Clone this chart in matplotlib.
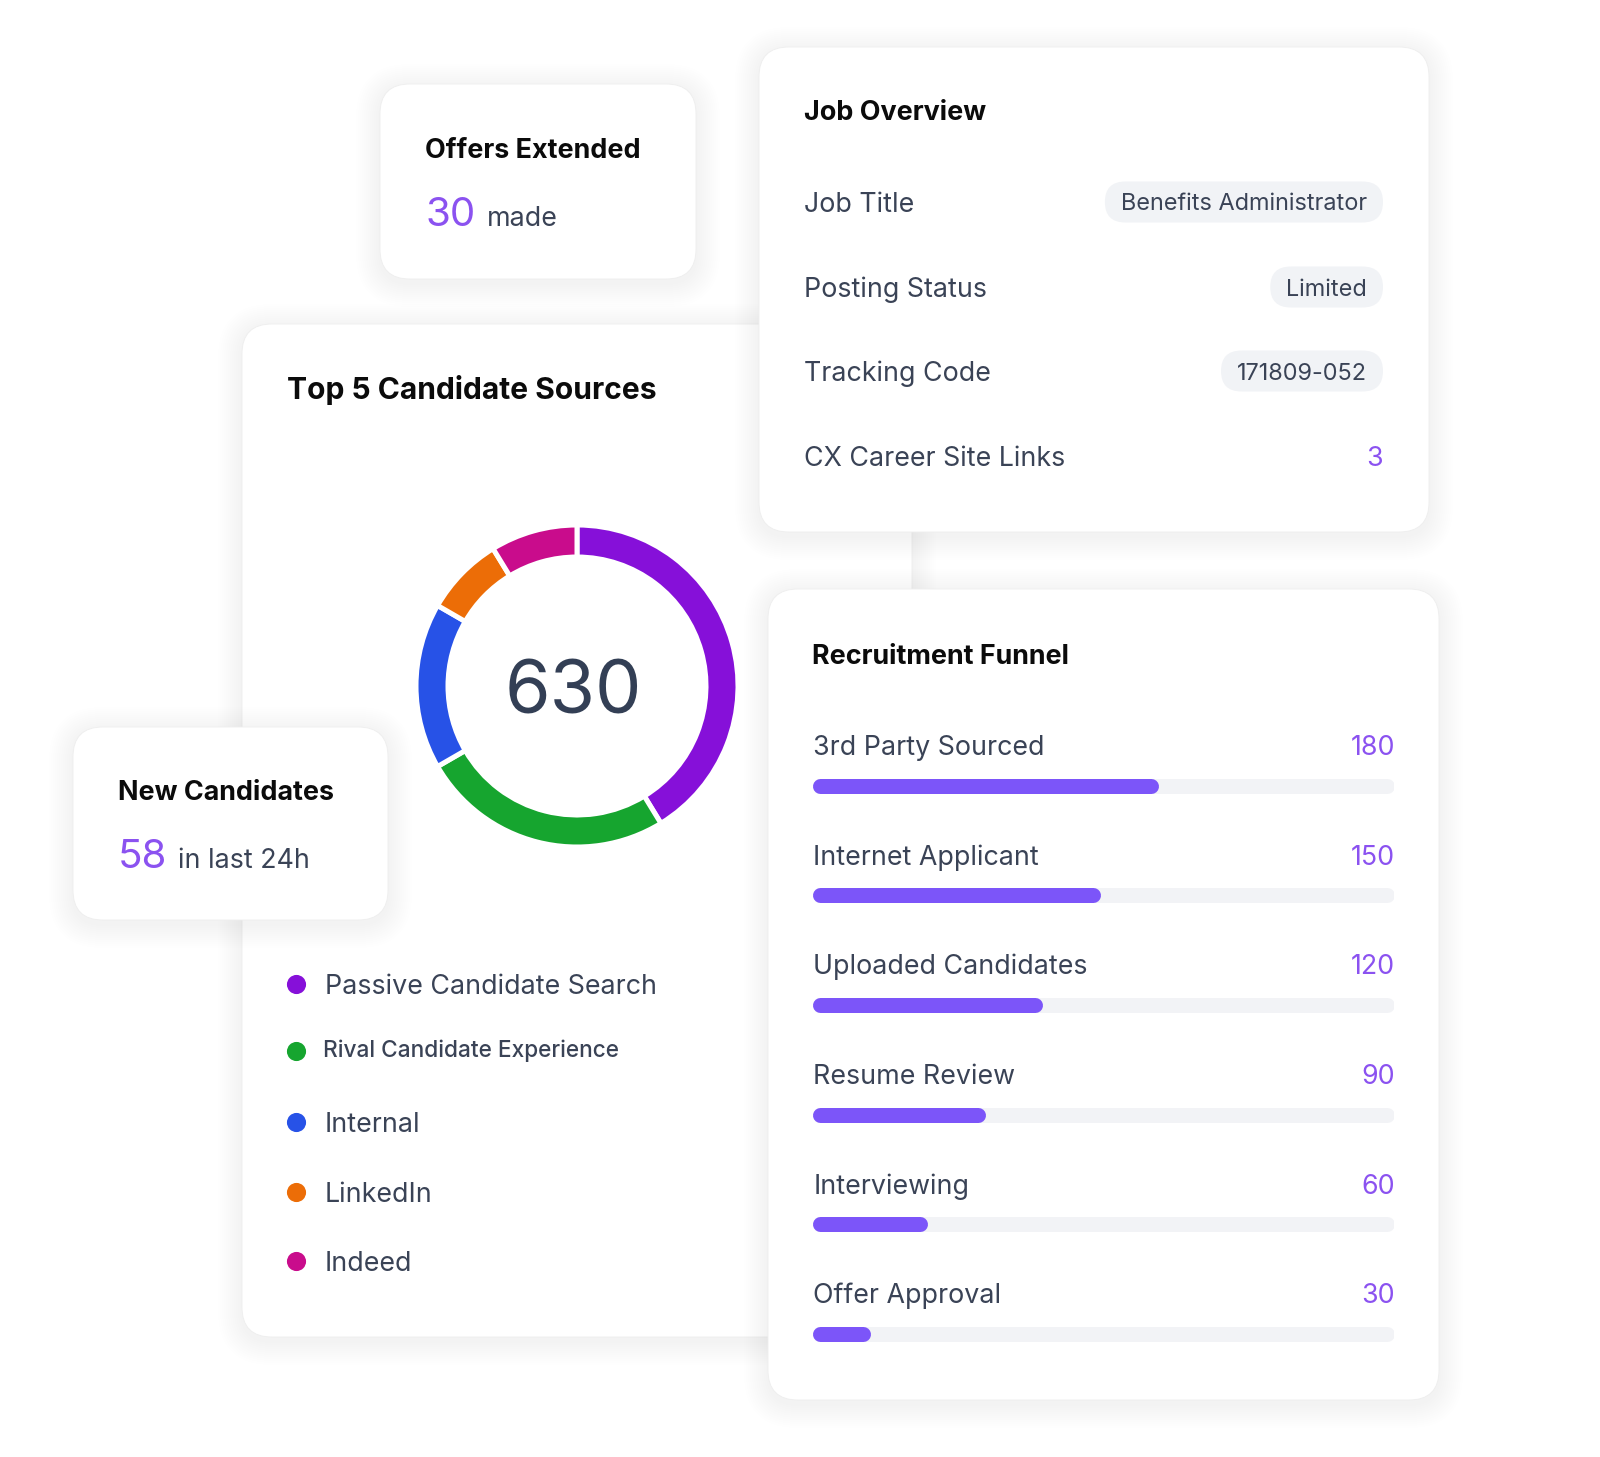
import matplotlib
matplotlib.use("Agg")
import matplotlib.pyplot as plt
from matplotlib.patches import FancyBboxPatch

plt.rcParams['font.family'] = ['Inter', 'DejaVu Sans']

# ---- data ----
source_names = ["Passive Candidate Search", "Rival Candidate Experience",
                "Internal", "LinkedIn", "Indeed"]
source_counts = [260, 160, 105, 50, 55]
source_colors = ["#8610D9", "#16A52F", "#2752E7", "#EC6D07", "#C90C8C"]

funnel_stages = ["3rd Party Sourced", "Internet Applicant", "Uploaded Candidates",
                 "Resume Review", "Interviewing", "Offer Approval"]
funnel_counts = [180, 150, 120, 90, 60, 30]
funnel_scale_max = 303

job_fields = ["Job Title", "Posting Status", "Tracking Code", "CX Career Site Links"]
job_values = ["Benefits Administrator", "Limited", "171809-052", "3"]

offers_made = 30
new_candidates = 58

# ---- style ----
TITLE = "#0B0B0B"
SLATE = "#3A4356"
VIOLET = "#8B52F0"
BAR = "#7C55F9"
TRACK = "#F2F3F6"
PILL = "#F1F3F6"
TS = 19.4    # card title size
LS = 19.3    # label size

W, H = 1600, 1457
fig = plt.figure(figsize=(W / 100, H / 100), dpi=100)
fig.patch.set_facecolor("white")
ax = fig.add_axes([0, 0, 1, 1])
ax.set_xlim(0, W)
ax.set_ylim(H, 0)
ax.axis("off")


def card(x0, y0, x1, y1, z, r=30):
    # soft shadow made of stacked transparent boxes
    for i in range(12):
        s = 2 + i * 2.0
        ax.add_patch(FancyBboxPatch((x0 - s, y0 - s + 4), x1 - x0 + 2 * s, y1 - y0 + 2 * s,
                                    boxstyle="round,pad=0,rounding_size=%g" % (r + s),
                                    fc="black", ec="none", alpha=0.004, zorder=z - 0.5))
    ax.add_patch(FancyBboxPatch((x0, y0), x1 - x0, y1 - y0,
                                boxstyle="round,pad=0,rounding_size=%g" % r,
                                fc="white", ec="#EEEEEE", lw=0.6, zorder=z))


card(242, 324, 912, 1337, 1)      # top 5 sources
card(73, 727, 388, 920, 3)        # new candidates
card(759, 47, 1429, 532, 5)       # job overview
card(768, 589, 1439, 1400, 7)     # funnel
card(380, 84, 696, 279, 9)        # offers extended

# ---- offers extended ----
ax.text(425, 158.5, "Offers Extended", fontsize=TS, weight="bold", color=TITLE, zorder=10)
ax.text(425, 226, str(offers_made), fontsize=29, color=VIOLET, zorder=10)
ax.text(487, 226, "made", fontsize=LS, color=SLATE, zorder=10)

# ---- new candidates ----
ax.text(118, 800.5, "New Candidates", fontsize=TS, weight="bold", color=TITLE, zorder=4)
ax.text(118, 868, str(new_candidates), fontsize=29, color=VIOLET, zorder=4)
ax.text(178, 868, "in last 24h", fontsize=LS, color=SLATE, zorder=4)

# ---- job overview ----
ax.text(804, 120.5, "Job Overview", fontsize=TS, weight="bold", color=TITLE, zorder=6)
job_y = [202, 287, 371, 456]
renderer = fig.canvas.get_renderer()
for k, (name, val) in enumerate(zip(job_fields, job_values)):
    yc = job_y[k]
    ax.text(804, yc + 10, name, fontsize=LS, color=SLATE, zorder=6)
    if k == len(job_fields) - 1:
        ax.text(1383, yc + 10, val, fontsize=LS, color=VIOLET, ha="right", zorder=6)
        continue
    tx = ax.text(1367, yc + 8.5, val, fontsize=16.9, color=SLATE, ha="right", zorder=6.5)
    bb = tx.get_window_extent(renderer)
    left = bb.x0 - 16
    ax.add_patch(FancyBboxPatch((left, yc - 20.5), 1383 - left, 41,
                                boxstyle="round,pad=0,rounding_size=20.5",
                                fc=PILL, ec="none", zorder=6.2))

# ---- top 5 candidate sources ----
ax.text(287, 399.3, "Top 5 Candidate Sources", fontsize=21.6, weight="bold", color=TITLE, zorder=2)

cx, cy, half = 577, 686, 170
dax = fig.add_axes([(cx - half) / W, (H - cy - half) / H, 2 * half / W, 2 * half / H])
dax.pie(source_counts, colors=source_colors, startangle=90, counterclock=False,
        radius=161 / half, wedgeprops=dict(width=32 / half, edgecolor="white", linewidth=3.6))
dax.set_xlim(-1, 1)
dax.set_ylim(-1, 1)
dax.set_aspect("equal")
dax.axis("off")
dax.text(-0.02, 0, str(sum(source_counts)), fontsize=53, color="#333F55",
         ha="center", va="center_baseline")

legend_y = [984, 1051, 1122, 1192, 1261]
for k, (name, col) in enumerate(zip(source_names, source_colors)):
    ax.scatter([296], [legend_y[k]], s=190, color=col, zorder=2, linewidths=0)
    if k == 1:
        ax.text(323, legend_y[k] + 6.5, name, fontsize=16.3, weight="medium", color=SLATE, zorder=2)
    else:
        ax.text(325, legend_y[k] + 10, name, fontsize=LS, color=SLATE, zorder=2)

# ---- recruitment funnel ----
ax.text(812, 663.5, "Recruitment Funnel", fontsize=TS, weight="bold", color=TITLE, zorder=8)

row0, step = 785.7, 109.6
bx0, bx1 = 812.7, 1394
top = row0 - step / 2
bot = row0 + step * (len(funnel_stages) - 0.5)
fax = fig.add_axes([bx0 / W, (H - bot) / H, (bx1 - bx0) / W, (bot - top) / H])
fax.set_xlim(0, funnel_scale_max)
fax.set_ylim(len(funnel_stages) - 0.5, -0.5)
fax.axis("off")
lw_px = 15
cap = (lw_px / 2) / ((bx1 - bx0) / funnel_scale_max)
ys = list(range(len(funnel_stages)))
fax.hlines(ys, cap, funnel_scale_max - cap, colors=TRACK, lw=lw_px * 0.72, capstyle="round")
fax.hlines(ys, cap, [v - cap for v in funnel_counts], colors=BAR, lw=lw_px * 0.72, capstyle="round")
tr = fax.get_yaxis_transform()
off = 30.5 / step
for i, (name, v) in enumerate(zip(funnel_stages, funnel_counts)):
    fax.text(0.001, i - off, name, transform=tr, fontsize=LS, color=SLATE, va="baseline")
    fax.text(1.002, i - off, str(v), transform=tr, fontsize=LS, color=VIOLET, ha="right", va="baseline")

fig.savefig("out.png", dpi=100, facecolor="white")
